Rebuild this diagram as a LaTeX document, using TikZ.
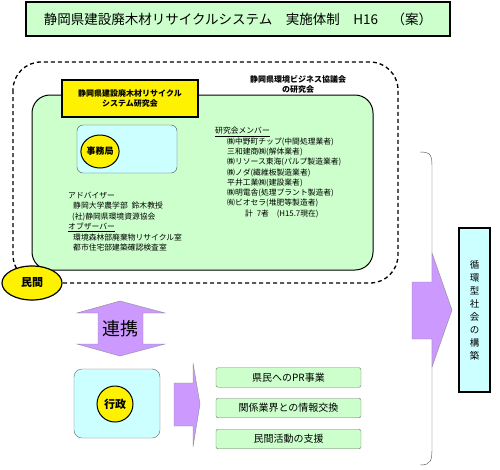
\documentclass[tikz,border=0pt]{standalone}
\usepackage{fontspec}
\setmainfont{Noto Sans CJK JP}
\usetikzlibrary{shapes.geometric}
\definecolor{lgreen}{HTML}{CCFFCC}
\definecolor{lcyan}{HTML}{CCFFFF}
\definecolor{lpurple}{HTML}{CC99FF}
\begin{document}
\begin{tikzpicture}[x=1pt, y=-1pt,
    small/.style = {font=\fontsize{7.8}{9}\selectfont, anchor=west, inner sep=0pt},
    blockarrow/.style = {fill=lpurple, draw=black!45, thin},
    task/.style = {fill=lgreen, draw=black!55, rounded corners=2pt, minimum width=145pt, minimum height=19.5pt, inner sep=0pt, font=\fontsize{10}{12}\selectfont},
    badge/.style = {ellipse, fill=yellow, draw=black, line width=1pt, inner sep=0pt}]
                \useasboundingbox (0,0) rectangle (500,469);

                % Title

                \node[draw, line width=1.5pt, fill=lgreen, minimum width=424pt, minimum height=34pt,
                      font=\fontsize{13.5}{16}\selectfont] (title) at (238,19)
                      {静岡県建設廃木材リサイクルシステム\quad 実施体制\quad H16\quad（案）};

                % Private sector

                \draw[line width=1.3pt, dash pattern=on 4pt off 3pt, rounded corners=28pt] (13,62) rectangle (398,283);
                \draw[fill=lgreen, line width=1pt, rounded corners=18pt] (32,95) rectangle (373,270);

                \node[draw, line width=1.2pt, fill=yellow, minimum width=136pt, minimum height=37pt, align=center,
                      font=\bfseries\fontsize{8}{9.5}\selectfont] (kenkyu) at (130,98.5)
                      {静岡県建設廃木材リサイクル\\システム研究会};
                \node[align=center, font=\bfseries\fontsize{8}{10}\selectfont] (kyogikai) at (298,84)
                      {静岡県環境ビジネス協議会\\の研究会};

                \draw[fill=lcyan, draw=black!70, rounded corners=6pt] (77,125) rectangle (177,173);
                \node[badge, minimum width=36pt, minimum height=33pt, font=\bfseries\fontsize{9}{10}\selectfont] (jimu) at (100,151.5) {事務局};

                \node[small] (adv)  at (68,196) {アドバイザー};
                \node[small] (adv1) at (73,206) {静岡大学農学部\enspace 鈴木教授};
                \node[small] (adv2) at (72,217) {(社)静岡県環境資源協会};
                \node[small] (obs)  at (68,227) {\underline{オブザーバー}};
                \node[small] (obs1) at (73,238) {環境森林部廃棄物リサイクル室};
                \node[small] (obs2) at (73,248) {都市住宅部建築確認検査室};

                \node[small] (member) at (215,132) {\underline{研究会メンバー}};
                \foreach \t [count=\i] in {{㈱中野町チップ(中間処理業者)}, {三和建商㈱(解体業者)},
                        {㈱リソース東海(パルプ製造業者)}, {㈱ノダ(繊維板製造業者)}, {平井工業㈱(建設業者)},
                        {㈱明電舎(処理プラント製造者)}, {㈲ビオセラ(堆肥等製造者)}}
                    \node[small] (m\i) at (227,131.8+10.2*\i) {\t};
                \node[small] (total) at (245,214) {計\enspace 7者\quad(H15.7現在)};

                \node[badge, line width=1.2pt, minimum width=60pt, minimum height=34pt, font=\bfseries\fontsize{11}{12}\selectfont] (minkan) at (32,283) {民間};

                % Cooperation

                \filldraw[blockarrow] (120,301) -- (165,313) -- (143,313) -- (143,344) -- (165,344) -- (120,356)
                      -- (77,344) -- (98,344) -- (98,313) -- (77,313) -- cycle;
                \node[font=\fontsize{18}{20}\selectfont] (renkei) at (120,329) {連携};

                % Administration

                \draw[fill=lcyan, draw=black!60, rounded corners=8pt] (74,369) rectangle (160,438);
                \node[badge, circle, minimum size=36pt, font=\bfseries\fontsize{11}{12}\selectfont] (gyosei) at (115,404) {行政};

                \filldraw[blockarrow] (174,383) -- (193,383) -- (193,363) -- (200,404) -- (193,447) -- (193,426) -- (174,426) -- cycle;

                \node[task] (pr)    at (288.5,377.5) {県民へのPR事業};
                \node[task] (info)  at (288.5,408)   {関係業界との情報交換};
                \node[task] (shien) at (288.5,439)   {民間活動の支援};

                % Goal

                \draw[black!70] (420,152) .. controls (432,152) and (432,156) .. (432,170) -- (432,447)
                      .. controls (432,461) and (431,465) .. (420,465);
                \filldraw[blockarrow] (412,282) -- (432,282) -- (432,253) -- (452,310) -- (432,367) -- (432,339) -- (412,339) -- cycle;

                \node[draw, line width=1.5pt, fill=lcyan, minimum width=31pt, minimum height=164pt, inner sep=0pt,
                      align=center, font=\fontsize{9.5}{13}\selectfont] (goal) at (474.5,310)
                      {循\\環\\型\\社\\会\\の\\構\\築};
            \end{tikzpicture}
\end{document}
